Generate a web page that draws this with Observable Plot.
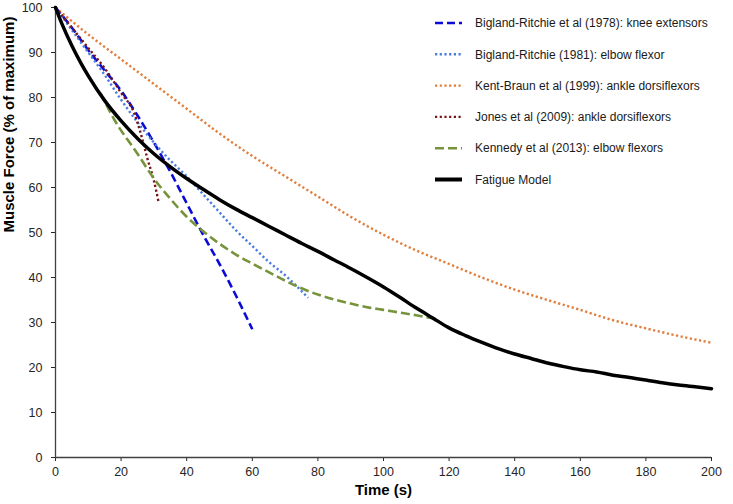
<!DOCTYPE html>
<html><head><meta charset="utf-8">
<script src="https://cdn.jsdelivr.net/npm/d3@7"></script>
<script src="https://cdn.jsdelivr.net/npm/@observablehq/plot@0.6"></script>
<style>body{margin:0;background:#fff;} #chart{width:733px;height:504px;}</style>
</head><body><div id="chart"></div>
<script>
// ---- data ----
const seriesNames = [
  "Bigland-Ritchie et al (1978): knee extensors",
  "Bigland-Ritchie (1981): elbow flexor",
  "Kent-Braun et al (1999): ankle dorsiflexors",
  "Jones et al (2009): ankle dorsiflexors",
  "Kennedy et al (2013): elbow flexors",
  "Fatigue Model"
];
const kneeTime  = [0, 5, 10, 15, 20, 25, 30, 35, 40, 45, 50, 55, 60];
const kneeForce = [100, 95.5, 90.5, 86, 81.5, 76, 70, 63.5, 56.5, 49.5, 43, 36, 28.5];

const elbow81Time  = [0, 5, 10, 15, 20, 25, 30, 35, 40, 45, 50, 55, 60, 65, 70, 77];
const elbow81Force = [100, 95, 90, 85, 79.5, 74.5, 70, 66, 62.5, 58.5, 54.5, 50.5, 47, 43.5, 40.5, 35.5];

const kentTime  = [0, 10, 20, 30, 40, 50, 60, 70, 80, 90, 100, 110, 120, 130, 140, 150, 160, 170, 180, 190, 200];
const kentForce = [100, 94, 88.5, 83, 77.5, 72, 67, 62.5, 58, 53.5, 49.5, 46, 43, 40, 37.3, 35, 32.8, 30.5, 28.7, 27, 25.5];

const jonesTime  = [0, 5, 10, 15, 20, 24, 26, 28, 30, 31.5];
const jonesForce = [100, 95.5, 91, 86.5, 81, 76.5, 72, 66.5, 61.5, 56.5];

const kennedyTime  = [13.7, 18, 25, 30, 35, 40, 45, 50, 55, 60, 65, 70, 75, 80, 85, 90, 95, 100, 105, 110, 116];
const kennedyForce = [81, 75, 67.5, 62, 57.5, 53.5, 50.3, 47.5, 45.1, 43.1, 41.2, 39.3, 37.6, 36.2, 35.1, 34.2, 33.4, 32.8, 32.2, 31.6, 30.8];

const modelTime  = [0, 2, 5, 8, 10, 15, 20, 25, 30, 35, 40, 45, 50, 55, 60, 65, 70, 75, 80, 85, 90, 95, 100, 105, 110, 115, 120, 125, 130, 135, 140, 145, 150, 155, 160, 165, 170, 175, 180, 185, 190, 195, 200];
const modelForce = [100, 96.3, 91.5, 87.3, 84.8, 79.3, 74.8, 70.9, 67.5, 64.6, 62, 59.6, 57.3, 55.2, 53.3, 51.4, 49.5, 47.6, 45.8, 43.9, 42, 40, 37.9, 35.6, 33.2, 31, 28.8, 27.1, 25.6, 24.2, 23, 22, 21, 20.2, 19.5, 19, 18.3, 17.8, 17.2, 16.6, 16.1, 15.7, 15.3];

const xTicks = [0, 20, 40, 60, 80, 100, 120, 140, 160, 180, 200];
const yTicks = [0, 10, 20, 30, 40, 50, 60, 70, 80, 90, 100];
const xTitle = "Time (s)";
const yTitle = "Muscle Force (% of maximum)";

// ---- styles ----
const series = [
  {name: seriesNames[0], t: kneeTime,    f: kneeForce,    stroke: "#0b0bd6", width: 2.6, dash: "8,4"},
  {name: seriesNames[1], t: elbow81Time, f: elbow81Force, stroke: "#4a7be0", width: 2.4, dash: "2.2,2.5"},
  {name: seriesNames[2], t: kentTime,    f: kentForce,    stroke: "#e27c38", width: 2.4, dash: "2.2,2.5"},
  {name: seriesNames[3], t: jonesTime,   f: jonesForce,   stroke: "#7a1414", width: 2.4, dash: "2.2,2.5"},
  {name: seriesNames[4], t: kennedyTime, f: kennedyForce, stroke: "#77933c", width: 2.6, dash: "9,4"},
  {name: seriesNames[5], t: modelTime,   f: modelForce,   stroke: "#000000", width: 3.5, dash: null}
];
const rowsOf = s => s.t.map((v, i) => ({t: v, f: s.f[i], name: s.name}));

const W = 733, H = 504, mL = 55, mR = 22, mT = 7, mB = 47;
const font = "'Liberation Sans', Arial, Helvetica, sans-serif";

const lineMarks = series.map(s => Plot.line(rowsOf(s), {
  x: "t", y: "f", stroke: s.stroke, strokeWidth: s.width,
  strokeDasharray: s.dash || undefined, strokeLinejoin: "round",
  strokeLinecap: s.dash ? "butt" : "round", curve: "monotone-x"
}));

const plot = Plot.plot({
  width: W, height: H,
  marginLeft: mL, marginRight: mR, marginTop: mT, marginBottom: mB,
  style: {fontFamily: font, fontSize: "12px", color: "#262626", background: "#fff", overflow: "visible"},
  x: {domain: [0, 200], label: null},
  y: {domain: [0, 100], label: null},
  marks: [
    Plot.axisX({ticks: xTicks, tickSize: 4, tickPadding: 6, label: null, fontSize: 12.5}),
    Plot.axisY({ticks: yTicks, tickSize: 4, tickPadding: 9, label: null, fontSize: 12.5}),
    Plot.ruleX([0], {stroke: "#404040", strokeWidth: 1.3}),
    Plot.ruleY([0], {stroke: "#404040", strokeWidth: 1.3}),
    ...lineMarks,
    Plot.text([xTitle], {text: d => d, frameAnchor: "bottom", dy: 37, fontWeight: "bold", fontSize: 15, fill: "#000"}),
    Plot.text([yTitle], {text: d => d, frameAnchor: "left", dx: -46, rotate: -90, fontWeight: "bold", fontSize: 15, fill: "#000"})
  ]
});
document.getElementById("chart").appendChild(plot);

// ---- legend (inside plot, top right) ----
const svg = d3.select(plot);
const lg = svg.append("g").attr("font-family", font).attr("font-size", 12).attr("text-anchor", "start");
const lgX0 = 435, lgX1 = 462, lgTx = 475, lgY0 = 23, lgStep = 31.3;
series.forEach((s, i) => {
  const y = lgY0 + i * lgStep;
  lg.append("line").attr("x1", lgX0).attr("x2", lgX1).attr("y1", y).attr("y2", y)
    .attr("stroke", s.stroke).attr("stroke-width", s.width === 3.5 ? 4 : s.width)
    .attr("stroke-dasharray", s.dash || null);
  lg.append("text").attr("x", lgTx).attr("y", y).attr("dy", "0.35em")
    .attr("text-anchor", "start").attr("fill", "#1a1a1a").text(s.name);
});
</script>
</body></html>
